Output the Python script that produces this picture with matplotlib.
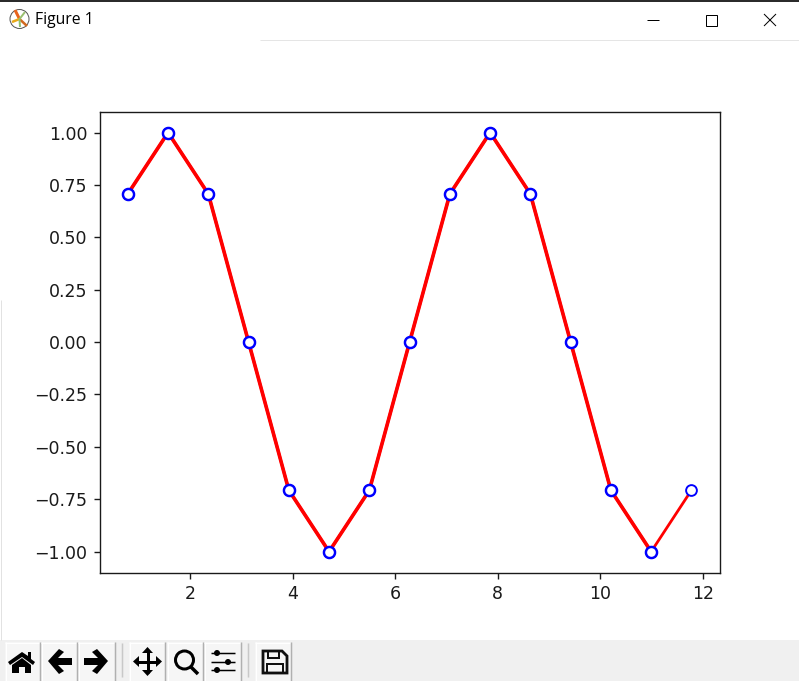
import matplotlib
matplotlib.use("Agg")
import matplotlib.pyplot as plt
from matplotlib.patches import Polygon, Rectangle, Circle

x_values = [0.785, 1.571, 2.356, 3.142, 3.927, 4.712, 5.498, 6.283,
            7.069, 7.854, 8.639, 9.425, 10.210, 10.996, 11.781]
y_values = [0.707, 1.0, 0.707, 0.0, -0.707, -1.0, -0.707, 0.0,
            0.707, 1.0, 0.707, 0.0, -0.707, -1.0, -0.707]
window_title = "Figure 1"

W, H = 799, 681
DPI = 125
PT = 72 / DPI  # one pixel in points

fig = plt.figure(figsize=(W / DPI, H / DPI), dpi=DPI, facecolor="white")

# ---- chart ----
ax = fig.add_axes([99.6 / W, (H - 572.6) / H, 620 / W, 461 / H])
style = dict(color="red", marker="o", markerfacecolor="white", markeredgecolor="blue")
ax.plot(x_values, y_values, linewidth=1.6, markersize=6.2, markeredgewidth=1.1, **style)
xlim, ylim = ax.get_xlim(), ax.get_ylim()
ax.plot(x_values[:-1], y_values[:-1], linewidth=2.1, markersize=6.4, markeredgewidth=1.4, **style)
ax.set_xlim(xlim)
ax.set_ylim(ylim)
ax.tick_params(labelcolor="#1a1a1a", color="#1a1a1a")
for spine in ax.spines.values():
    spine.set_edgecolor("#1a1a1a")

# ---- window chrome, in pixel coordinates ----
ui = fig.add_axes([0, 0, 1, 1], zorder=-1)
ui.set_xlim(0, W)
ui.set_ylim(H, 0)
ui.axis("off")
BLACK = "#000000"


def rect(x, y, w, h, **kw):
    kw.setdefault("linewidth", 0)
    ui.add_patch(Rectangle((x, y), w, h, **kw))


def poly(points, color=BLACK):
    ui.add_patch(Polygon(points, closed=True, facecolor=color, edgecolor="none"))


def seg(xs, ys, px=1.0, color=BLACK, cap="butt"):
    ui.plot(xs, ys, color=color, linewidth=px * PT, solid_capstyle=cap)


# title bar
rect(0, 0, W, 1.5, facecolor="#2b2b2b")
seg([260, W], [39.5, 39.5], 1, "#e5e5e5")
seg([0.5, 0.5], [300, 640], 1, "#e2e2e2")
ui.text(35, 20, window_title, family="Open Sans", fontsize=15.8 * PT, color="black",
        ha="left", va="center")

# application icon
ui.add_patch(Circle((19.5, 19), 9.5, facecolor="white", edgecolor="#555555", linewidth=1 * PT))
seg([19.5, 27], [19, 26], 2.5, "#d2691e")
seg([19.5, 15], [19, 10], 3, "#e8641e")
seg([19.5, 12], [19, 22], 2.5, "#e8a818")
seg([19.5, 25], [19, 12], 2, "#9ac070")
seg([19.5, 20], [19, 27], 2, "#8fbf70")

# window buttons
seg([647, 659], [19.5, 19.5], 1)
ui.add_patch(Rectangle((705.5, 14.5), 11, 11, fill=False, edgecolor=BLACK, linewidth=1 * PT))
seg([764, 776], [14, 26], 1)
seg([764, 776], [26, 14], 1)

# toolbar
rect(0, 640, W, 41, facecolor="#f0f0f0")
for bx, bw in [(5, 35), (41, 36), (78, 37), (129, 36), (167, 36), (204, 37), (255, 36)]:
    rect(bx, 642, bw, 39, facecolor="#f6f6f6")
    seg([bx, bx + bw], [642.5, 642.5], 1, "#ffffff")
    seg([bx + .5, bx + .5], [642, 681], 1, "#ffffff")
    seg([bx + bw - .5, bx + bw - .5], [642, 681], 1.5, "#b0b0b0")
for sx in (122, 248):
    seg([sx, sx], [643, 677], 1.5, "#c8c8c8")

# home
poly([(8, 662), (22, 652), (28, 656), (28, 652), (31, 652), (31, 659), (35, 662),
      (33, 665), (22, 657), (10, 665)])
poly([(12, 665), (22, 658), (31, 665), (31, 673), (25, 673), (25, 667), (19, 667),
      (19, 673), (12, 673)])
# back
poly([(48, 661), (59, 649), (64, 652), (58, 658), (72, 658), (72, 665), (58, 665),
      (64, 671), (59, 674)])
# forward
poly([(108, 661), (97, 649), (92, 652), (98, 658), (84, 658), (84, 665), (98, 665),
      (92, 671), (97, 674)])
# move
seg([136, 159], [661.5, 661.5], 3)
seg([147.5, 147.5], [650, 673], 3)
poly([(133, 661.5), (139, 656), (139, 667)])
poly([(162, 661.5), (156, 656), (156, 667)])
poly([(147.5, 647), (142, 653), (153, 653)])
poly([(147.5, 676), (142, 670), (153, 670)])
# zoom
ui.add_patch(Circle((184.5, 660), 9, fill=False, edgecolor=BLACK, linewidth=3 * PT))
seg([191, 198], [667, 674], 3.5)
# sliders
for ly, kx in [(653, 217), (662, 228), (670, 217)]:
    seg([211, 235], [ly, ly], 1.5)
    ui.add_patch(Circle((kx, ly), 3, facecolor=BLACK, edgecolor="none"))
# save
ui.add_patch(Polygon([(263, 651), (282, 651), (287, 656), (287, 673), (263, 673)],
                     closed=True, fill=False, edgecolor="#111111", linewidth=2.8 * PT))
ui.add_patch(Rectangle((268, 651), 11, 7, fill=False, edgecolor="#111111", linewidth=2 * PT))
ui.add_patch(Rectangle((267, 664), 16, 9, fill=False, edgecolor="#111111", linewidth=2 * PT))

fig.savefig("out.png", dpi=DPI, facecolor="white")
